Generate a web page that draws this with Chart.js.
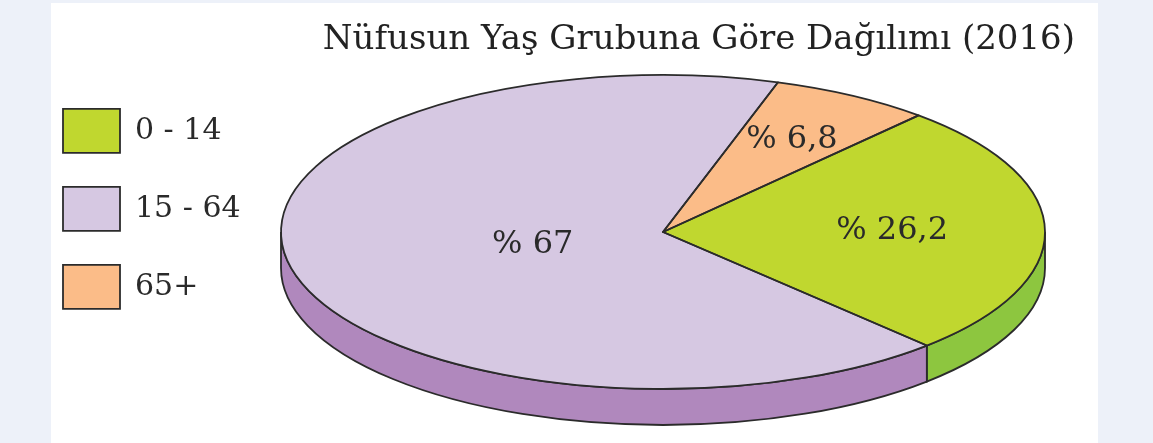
<!DOCTYPE html>
<html>
<head>
    <meta charset="utf-8">
    <title>Nüfusun Yaş Grubuna Göre Dağılımı (2016)</title>
    <script src="https://cdn.jsdelivr.net/npm/chart.js"></script>
    <style>
body {
    margin: 0;
    background-color: #edf1f9;
    overflow: hidden;
}

#paper {
    position: absolute;
    left: 51px;
    top: 3px;
    width: 1047px;
    height: 440px;
    background-color: #fff;
}

#wrap {
    position: absolute;
    left: 0;
    top: 0;
    width: 1153px;
    height: 443px;
}
    </style>
</head>
<body>
  <div id="paper"></div>
  <div id="wrap">
    <canvas id="ageChart" width="1153" height="443"></canvas>
  </div>

  <script>
// data
const ageGroups = ['0 - 14', '15 - 64', '65+'];
const shares = [26.2, 67, 6.8];
const shareLabels = ['% 26,2', '% 67', '% 6,8'];
const chartTitle = 'Nüfusun Yaş Grubuna Göre Dağılımı (2016)';

// colours: top face / side wall
const topColors = ['#c0d72f', '#d6c8e2', '#fbbc88'];
const sideColors = ['#8dc63f', '#b088bd', '#e9a36f'];
const outline = '#2b2b2b';
const serif = "'DejaVu Serif', 'Liberation Serif', serif";

// where the flattened pie sits on the page
const PIE = { cx: 663, cy: 232, rx: 382, ry: 157, depth: 36 };
const labelRadius = [0.6, 0.35, 0.68];

function ellipsePoint(a, dy) {
    return [PIE.cx + PIE.rx * Math.cos(a), PIE.cy + (dy || 0) + PIE.ry * Math.sin(a)];
}

// draws the chart.js pie as a tilted 3D disc
const tiltedPie = {
    id: 'tiltedPie',
    beforeDatasetsDraw(chart) {
        const ctx = chart.ctx;
        const arcs = chart.getDatasetMeta(0).data;
        ctx.save();
        ctx.lineWidth = 1.8;
        ctx.strokeStyle = outline;
        arcs.forEach((arc, i) => {
            const s = arc.startAngle, e = arc.endAngle;
            // only the front half (0..PI) of the wall is visible
            for (let k = -1; k <= 2; k++) {
                const a1 = Math.max(s, k * 2 * Math.PI);
                const a2 = Math.min(e, k * 2 * Math.PI + Math.PI);
                if (a2 <= a1) continue;
                const p2 = ellipsePoint(a2, PIE.depth);
                ctx.beginPath();
                ctx.ellipse(PIE.cx, PIE.cy, PIE.rx, PIE.ry, 0, a1, a2, false);
                ctx.lineTo(p2[0], p2[1]);
                ctx.ellipse(PIE.cx, PIE.cy + PIE.depth, PIE.rx, PIE.ry, 0, a2, a1, true);
                ctx.closePath();
                ctx.fillStyle = sideColors[i];
                ctx.fill();
                ctx.stroke();
            }
        });
        ctx.restore();
    },
    beforeDatasetDraw(chart) {
        const ctx = chart.ctx;
        const arc = chart.getDatasetMeta(0).data[0];
        ctx.save();
        ctx.translate(PIE.cx, PIE.cy);
        ctx.scale(PIE.rx / arc.outerRadius, PIE.ry / arc.outerRadius);
        ctx.translate(-arc.x, -arc.y);
    },
    afterDatasetDraw(chart) {
        chart.ctx.restore();
    },
    afterDatasetsDraw(chart) {
        const ctx = chart.ctx;
        const arcs = chart.getDatasetMeta(0).data;
        ctx.save();
        ctx.lineWidth = 1.8;
        ctx.strokeStyle = outline;
        ctx.lineJoin = 'round';
        arcs.forEach((arc) => {
            const p = ellipsePoint(arc.startAngle);
            ctx.beginPath();
            ctx.moveTo(PIE.cx, PIE.cy);
            ctx.lineTo(p[0], p[1]);
            ctx.ellipse(PIE.cx, PIE.cy, PIE.rx, PIE.ry, 0, arc.startAngle, arc.endAngle, false);
            ctx.closePath();
            ctx.stroke();
        });
        ctx.fillStyle = '#2a2a2a';
        ctx.font = '32px ' + serif;
        ctx.textAlign = 'center';
        ctx.textBaseline = 'middle';
        arcs.forEach((arc, i) => {
            const mid = (arc.startAngle + arc.endAngle) / 2;
            const f = labelRadius[i];
            ctx.fillText(shareLabels[i],
                PIE.cx + PIE.rx * f * Math.cos(mid),
                PIE.cy + PIE.ry * f * Math.sin(mid));
        });
        ctx.restore();
    }
};

const ctx = document.getElementById('ageChart').getContext('2d');

new Chart(ctx, {
    type: 'pie',
    data: {
        labels: ageGroups,
        datasets: [{
            data: shares,
            backgroundColor: topColors,
            borderWidth: 0,
            hoverOffset: 0
        }]
    },
    options: {
        responsive: false,
        animation: false,
        events: [],
        rotation: 42,
        layout: {
            padding: { left: 29, right: 78, top: 0, bottom: 0 }
        },
        plugins: {
            title: {
                display: true,
                text: chartTitle,
                align: 'end',
                color: '#222',
                font: { family: serif, size: 34, weight: 'normal' },
                padding: { top: 20, bottom: 14 }
            },
            legend: {
                position: 'left',
                align: 'start',
                fullSize: false,
                labels: {
                    boxWidth: 57,
                    boxHeight: 44,
                    padding: 34,
                    color: '#2a2a2a',
                    font: { family: serif, size: 30 },
                    generateLabels(chart) {
                        const items = Chart.overrides.pie.plugins.legend.labels.generateLabels(chart);
                        return items.map(it => Object.assign(it, { lineWidth: 1.8, strokeStyle: outline }));
                    }
                }
            },
            tooltip: { enabled: false }
        }
    },
    plugins: [tiltedPie]
});
  </script>
</body>
</html>
